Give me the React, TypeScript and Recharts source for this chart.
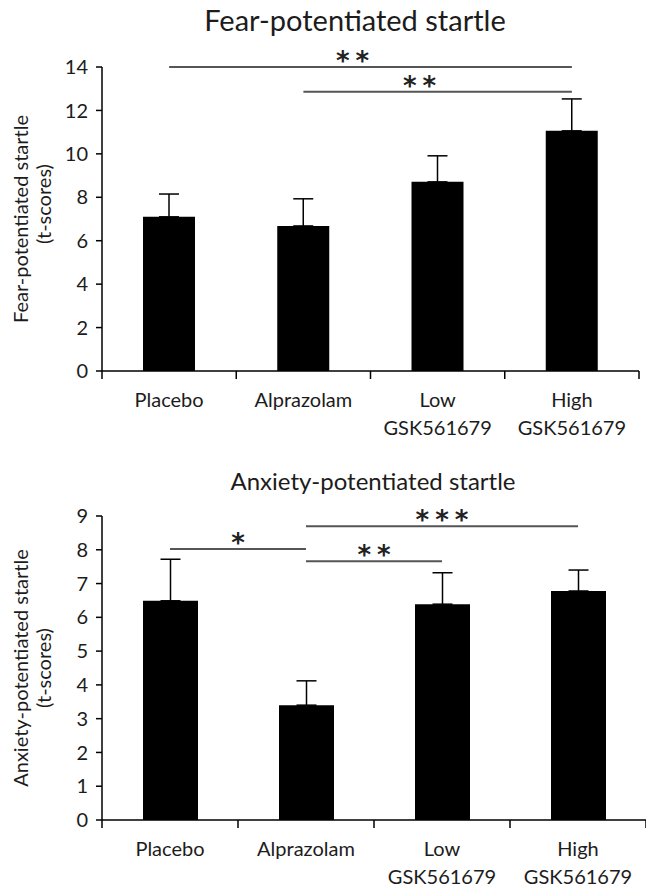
import React from 'react';
import { BarChart, Bar, XAxis, YAxis, ErrorBar, ReferenceLine } from 'recharts';

const categories = ['Placebo', 'Alprazolam', 'Low\nGSK561679', 'High\nGSK561679'];

// fear-potentiated startle, mean and SEM (t-scores)
const fearMeans = [7.1, 6.68, 8.71, 11.06];
const fearSem = [1.05, 1.25, 1.2, 1.47];
const fearTicks = [0, 2, 4, 6, 8, 10, 12, 14];

// anxiety-potentiated startle
const anxMeans = [6.49, 3.4, 6.39, 6.78];
const anxSem = [1.23, 0.72, 0.93, 0.62];
const anxTicks = [0, 1, 2, 3, 4, 5, 6, 7, 8, 9];

const fearSig = [
  { from: 'Placebo', to: 'High\nGSK561679', y: 14, stars: '**' },
  { from: 'Alprazolam', to: 'High\nGSK561679', y: 12.86, stars: '**' },
];
const anxSig = [
  { from: 'Placebo', to: 'Alprazolam', y: 8.02, stars: '*' },
  { from: 'Alprazolam', to: 'Low\nGSK561679', y: 7.66, stars: '**' },
  { from: 'Alprazolam', to: 'High\nGSK561679', y: 8.7, stars: '***' },
];

const FONT = 'Lato, "Open Sans", sans-serif';
const INK = '#1c1c1c';

const toRows = (means: number[], sem: number[]) =>
  categories.map((c, i) => ({ name: c, value: means[i], err: [0, sem[i]] }));

function CategoryTick(props: any) {
  const { x, y, payload, index, half } = props;
  const h = payload && payload.offset ? payload.offset : half;
  const lines = String(payload.value).split('\n');
  return (
    <g>
      {index === 0 && (
        <line x1={x - h} x2={x - h} y1={y} y2={y + 8} stroke="#000" strokeWidth={1.5} />
      )}
      <line x1={x + h} x2={x + h} y1={y} y2={y + 8} stroke="#000" strokeWidth={1.5} />
      {lines.map((l, i) => (
        <text
          key={i}
          x={x}
          y={y + 36 + i * 28}
          textAnchor="middle"
          fontSize={20}
          fontFamily={FONT}
          fill={INK}
        >
          {l}
        </text>
      ))}
    </g>
  );
}

function StarLabel(props: any) {
  const { viewBox, value, dx = 0 } = props;
  if (!viewBox) return null;
  const cx = viewBox.x + viewBox.width / 2 + dx + 3;
  return (
    <text
      x={cx}
      y={viewBox.y + 3}
      textAnchor="middle"
      fontSize={26}
      fontWeight="bold"
      letterSpacing={6}
      fontFamily='"DejaVu Sans", sans-serif'
      fill="#222"
    >
      {value}
    </text>
  );
}

function YLabel(props: any) {
  const { viewBox, text, lift = 0 } = props;
  if (!viewBox) return null;
  const cy = viewBox.y + viewBox.height / 2;
  return (
    <g fontFamily={FONT} fontSize={20} fill={INK}>
      <text x={20} y={cy} transform={`rotate(-90 20 ${cy})`} textAnchor="middle" dominantBaseline="central">
        {text}
      </text>
      <text
        x={43}
        y={cy - lift}
        transform={`rotate(-90 43 ${cy - lift})`}
        textAnchor="middle"
        dominantBaseline="central"
      >
        (t-scores)
      </text>
    </g>
  );
}

interface PanelProps {
  means: number[];
  sem: number[];
  ticks: number[];
  sig: { from: string; to: string; y: number; stars: string }[];
  height: number;
  margin: { top: number; right: number; bottom: number; left: number };
  yLabel: string;
  lift: number;
  barSize: number;
  starShift: number;
}

function Panel({ means, sem, ticks, sig, height, margin, yLabel, lift, barSize, starShift }: PanelProps) {
  const data = toRows(means, sem);
  const half = (646 - margin.left - 40 - margin.right) / categories.length / 2;
  return (
    <BarChart width={646} height={height} data={data} margin={margin} barCategoryGap={0}>
      <XAxis
        dataKey="name"
        height={1}
        axisLine={{ stroke: '#000', strokeWidth: 1.5 }}
        tickLine={false}
        tickSize={0}
        tickMargin={0}
        interval={0}
        tick={(p: any) => <CategoryTick {...p} half={half} />}
      />
      <YAxis
        width={40}
        domain={[0, ticks[ticks.length - 1]]}
        ticks={ticks}
        interval={0}
        axisLine={{ stroke: '#000', strokeWidth: 1.5 }}
        tickLine={{ stroke: '#000', strokeWidth: 1.5 }}
        tickSize={6}
        tickMargin={8}
        tick={{ fontSize: 20, fontFamily: FONT, fill: INK }}
        label={{ content: (p: any) => <YLabel {...p} text={yLabel} lift={lift} /> }}
      />
      <Bar dataKey="value" fill="#000" barSize={barSize} isAnimationActive={false}>
        <ErrorBar dataKey="err" width={10} stroke="#000" strokeWidth={1.5} direction="y" isAnimationActive={false} />
      </Bar>
      {sig.map((s, i) => (
        <ReferenceLine
          key={i}
          ifOverflow="visible"
          segment={[
            { x: s.from, y: s.y },
            { x: s.to, y: s.y },
          ]}
          stroke="#555"
          strokeWidth={2}
          label={(p: any) => <StarLabel {...p} value={s.stars} dx={starShift} />}
        />
      ))}
    </BarChart>
  );
}

export default function App() {
  return (
    <div style={{ position: 'absolute', left: 0, top: 0, width: 646, height: 887, background: '#fff', fontFamily: FONT }}>
      <div style={{ position: 'absolute', left: 0, top: 0 }}>
        <Panel
          means={fearMeans}
          sem={fearSem}
          ticks={fearTicks}
          sig={fearSig}
          height={440}
          margin={{ top: 67, right: 7, bottom: 68, left: 62 }}
          yLabel="Fear-potentiated startle"
          lift={15}
          barSize={52}
          starShift={-18}
        />
      </div>
      <div style={{ position: 'absolute', left: 0, top: 440 }}>
        <Panel
          means={anxMeans}
          sem={anxSem}
          ticks={anxTicks}
          sig={anxSig}
          height={447}
          margin={{ top: 76, right: 0, bottom: 66, left: 62 }}
          yLabel="Anxiety-potentiated startle"
          lift={0}
          barSize={55}
          starShift={0}
        />
      </div>
      <div
        style={{
          position: 'absolute',
          left: 155,
          width: 400,
          top: 3,
          textAlign: 'center',
          fontSize: 29,
          lineHeight: '34px',
          color: INK,
        }}
      >
        Fear-potentiated startle
      </div>
      <div
        style={{
          position: 'absolute',
          left: 173,
          width: 400,
          top: 467,
          textAlign: 'center',
          fontSize: 24,
          lineHeight: '28px',
          color: INK,
        }}
      >
        Anxiety-potentiated startle
      </div>
    </div>
  );
}
